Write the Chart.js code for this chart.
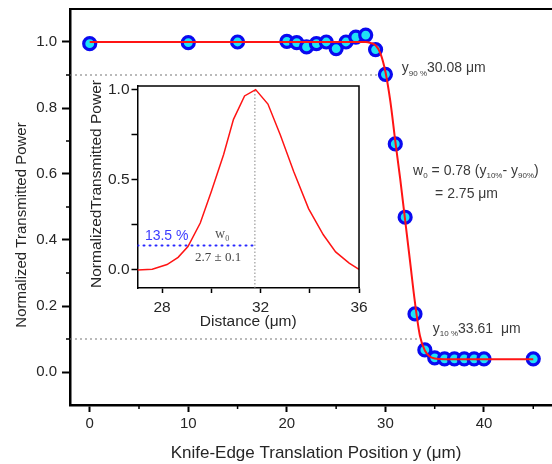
<!DOCTYPE html>
<html>
<head>
<meta charset="utf-8">
<script src="https://cdn.jsdelivr.net/npm/chart.js@4.4.0/dist/chart.umd.min.js"></script>
<style>
    body { margin: 0; background: #fff; }
    .wrap { position: relative; width: 552px; height: 464px; }
    #main { position: absolute; left: 0; top: 0; }
    #inset { position: absolute; left: 80px; top: 76px; }
</style>
</head>
<body>
<div class="wrap">
    <canvas id="main" width="552" height="464"></canvas>
    <canvas id="inset" width="290" height="260"></canvas>
</div>
<script>
// knife-edge scan (main plot)
const knifePos = [0, 10, 15, 20, 21, 22, 23, 24, 25, 26, 27, 28, 29, 30, 31, 32, 33, 34, 35, 36, 37, 38, 39, 40, 45];
const power = [0.995, 0.998, 1.0, 1.002, 0.998, 0.985, 0.995, 1.0, 0.98, 1.0, 1.015, 1.021, 0.977, 0.902,
               0.691, 0.469, 0.176, 0.067, 0.043, 0.04, 0.04, 0.04, 0.04, 0.04, 0.04];

// erf fit
const fitPos = [0, 28, 28.5, 29, 29.5, 30, 30.5, 31, 31.5, 32, 32.5, 33, 33.5, 34, 34.5, 35, 36, 45];
const fitPower = [1.0, 1.0, 0.997, 0.99, 0.965, 0.91, 0.82, 0.70, 0.585, 0.46, 0.335, 0.21, 0.11, 0.065, 0.047, 0.041, 0.039, 0.039];

// 90 % / 10 % guide lines
const guide90 = { from: -2, to: 30.08, level: 0.9 };
const guide10 = { from: -2, to: 33.61, level: 0.1 };

// inset: derived beam profile
const distance = [27, 27.6, 28.2, 28.65, 29.05, 29.55, 30, 30.5, 30.9, 31.35, 31.8, 32.3, 32.8, 33.35, 33.95, 34.55, 35.05, 35.6, 36];
const profile = [0, 0.004, 0.03, 0.07, 0.13, 0.26, 0.435, 0.64, 0.835, 0.965, 1.0, 0.92, 0.75, 0.545, 0.34, 0.195, 0.1, 0.038, 0.003];
const peakPos = 31.77;
const level135 = 0.135;
const level135End = 31.7;

const SANS = "'Liberation Sans', Arial, sans-serif";
const SERIF = "'Liberation Serif', 'Times New Roman', serif";
const INK = '#262626';
const NOTE = '#3a3a3a';

const pts = (xs, ys) => xs.map((x, i) => ({ x, y: ys[i] }));
const isMajorX = v => Math.round(v) % 10 === 0;
const isMajorY = v => Math.round(v * 10) % 2 === 0;

// fixed axis band, no extra label padding so the plot box sits where we want it
const fixHeight = h => s => { s.height = h; s.paddingLeft = 0; s.paddingRight = 0; };
const fixWidth = w => s => { s.width = w; s.paddingTop = 0; s.paddingBottom = 0; };

function richText(ctx, x, y, parts, color) {
    ctx.fillStyle = color;
    ctx.textBaseline = 'middle';
    ctx.textAlign = 'left';
    let cx = x;
    for (const [t, size, dy, family] of parts) {
        ctx.font = size + 'px ' + (family || SANS);
        ctx.fillText(t, cx, y + dy);
        cx += ctx.measureText(t).width;
    }
}

const mainDecor = {
    id: 'mainDecor',
    afterDraw(chart) {
        const { ctx, chartArea: a, scales: { x, y } } = chart;
        ctx.save();
        ctx.strokeStyle = '#000';
        ctx.lineWidth = 2;
        ctx.beginPath();
        ctx.moveTo(a.left, a.top);
        ctx.lineTo(a.right, a.top);
        ctx.stroke();

        // short minor ticks
        ctx.lineWidth = 1.5;
        x.ticks.forEach(t => {
            if (isMajorX(t.value)) return;
            const px = x.getPixelForValue(t.value);
            ctx.beginPath();
            ctx.moveTo(px, a.bottom);
            ctx.lineTo(px, a.bottom + 4);
            ctx.stroke();
        });
        y.ticks.forEach(t => {
            if (isMajorY(t.value) || t.value < 0 || t.value > 1) return;
            const py = y.getPixelForValue(t.value);
            ctx.beginPath();
            ctx.moveTo(a.left, py);
            ctx.lineTo(a.left - 4, py);
            ctx.stroke();
        });

        // axis titles
        ctx.fillStyle = INK;
        ctx.textAlign = 'center';
        ctx.textBaseline = 'middle';
        ctx.font = '17px ' + SANS;
        ctx.fillText('Knife-Edge Translation Position y (\u03bcm)', 316, 453);
        ctx.save();
        ctx.translate(22, 225);
        ctx.rotate(-Math.PI / 2);
        ctx.font = '15px ' + SANS;
        ctx.fillText('Normalized Transmitted Power', 0, 0);
        ctx.restore();

        const px = v => x.getPixelForValue(v);
        const py = v => y.getPixelForValue(v);
        richText(ctx, px(31.66), py(0.92), [['y', 14, 0], ['90 %', 8, 5], ['30.08 \u03bcm', 14, 0]], NOTE);
        richText(ctx, px(32.81), py(0.61), [['w', 14, 0], ['0', 8, 5], [' = 0.78 (y', 14, 0], ['10%', 8, 5],
            ['- y', 14, 0], ['90%', 8, 5], [')', 14, 0]], NOTE);
        richText(ctx, px(35.04), py(0.54), [['= 2.75 \u03bcm', 14, 0]], NOTE);
        richText(ctx, px(34.81), py(0.131), [['y', 14, 0], ['10 %', 8, 5], ['33.61  \u03bcm', 14, 0]], NOTE);
        ctx.restore();
    }
};

new Chart(document.getElementById('main'), {
    type: 'scatter',
    data: {
        datasets: [
            {
                type: 'line',
                data: pts(fitPos, fitPower),
                borderColor: '#ff1414',
                borderWidth: 2,
                pointRadius: 0,
                cubicInterpolationMode: 'monotone',
                order: 0
            },
            {
                data: pts(knifePos, power),
                pointRadius: 6,
                pointBorderWidth: 3.2,
                pointBackgroundColor: '#1fe3f5',
                pointBorderColor: '#0a0af0',
                order: 1
            },
            {
                type: 'line',
                data: [{ x: guide90.from, y: guide90.level }, { x: guide90.to, y: guide90.level }],
                borderColor: '#777',
                borderWidth: 1.2,
                borderDash: [2, 3],
                pointRadius: 0,
                order: 2
            },
            {
                type: 'line',
                data: [{ x: guide10.from, y: guide10.level }, { x: guide10.to, y: guide10.level }],
                borderColor: '#777',
                borderWidth: 1.2,
                borderDash: [2, 3],
                pointRadius: 0,
                order: 2
            }
        ]
    },
    options: {
        responsive: false,
        animation: false,
        layout: { autoPadding: false, padding: { top: 9, right: 0, left: 0, bottom: 0 } },
        plugins: { legend: { display: false }, tooltip: { enabled: false } },
        scales: {
            x: {
                type: 'linear',
                min: -2,
                max: 46.9,
                afterFit: fixHeight(59),
                border: { color: '#000', width: 2.5 },
                grid: {
                    drawOnChartArea: false,
                    tickLength: 7,
                    tickWidth: 2,
                    tickColor: c => isMajorX(c.tick.value) ? '#000' : 'transparent'
                },
                ticks: {
                    stepSize: 5,
                    includeBounds: false,
                    autoSkip: false,
                    maxRotation: 0,
                    padding: 3,
                    color: INK,
                    font: { family: SANS, size: 15 },
                    callback: v => isMajorX(v) ? String(v) : ''
                }
            },
            y: {
                type: 'linear',
                min: -0.1,
                max: 1.1,
                afterFit: fixWidth(70),
                border: { color: '#000', width: 2.5 },
                grid: {
                    drawOnChartArea: false,
                    tickLength: 8,
                    tickWidth: 2,
                    tickColor: c => isMajorY(c.tick.value) ? '#000' : 'transparent'
                },
                ticks: {
                    stepSize: 0.1,
                    includeBounds: false,
                    autoSkip: false,
                    padding: 5,
                    color: INK,
                    font: { family: SANS, size: 15 },
                    callback: v => isMajorY(v) ? v.toFixed(1) : ''
                }
            }
        }
    },
    plugins: [mainDecor]
});

const insetDecor = {
    id: 'insetDecor',
    afterDraw(chart) {
        const { ctx, chartArea: a, scales: { x, y } } = chart;
        ctx.save();
        ctx.strokeStyle = '#000';
        ctx.lineWidth = 1.5;
        ctx.beginPath();
        ctx.moveTo(a.left, a.top);
        ctx.lineTo(a.right, a.top);
        ctx.lineTo(a.right, a.bottom);
        ctx.stroke();

        ctx.fillStyle = INK;
        ctx.textAlign = 'center';
        ctx.textBaseline = 'middle';
        ctx.font = '15.5px ' + SANS;
        ctx.fillText('Distance (\u03bcm)', (a.left + a.right) / 2, 246);
        ctx.save();
        ctx.translate(17, 108);
        ctx.rotate(-Math.PI / 2);
        ctx.fillText('NormalizedTransmitted Power', 0, 0);
        ctx.restore();

        const px = v => x.getPixelForValue(v);
        const py = v => y.getPixelForValue(v);
        richText(ctx, px(27.3), py(0.19), [['13.5 %', 14, 0]], '#3c3cff');
        richText(ctx, px(30.15), py(0.2), [['w', 14, 0, SERIF], ['0', 8, 5, SERIF]], '#555');
        richText(ctx, px(29.34), py(0.07), [['2.7 \u00b1 0.1', 13, 0, SERIF]], '#444');
        ctx.restore();
    }
};

new Chart(document.getElementById('inset'), {
    type: 'scatter',
    data: {
        datasets: [
            {
                type: 'line',
                data: pts(distance, profile),
                borderColor: '#ff1414',
                borderWidth: 1.5,
                pointRadius: 0,
                tension: 0
            },
            {
                type: 'line',
                data: [{ x: peakPos, y: -0.1 }, { x: peakPos, y: 1.0 }],
                borderColor: '#888',
                borderWidth: 1,
                borderDash: [1.5, 2],
                pointRadius: 0
            },
            {
                type: 'line',
                data: [{ x: 27, y: level135 }, { x: level135End, y: level135 }],
                borderColor: '#2a2aff',
                borderWidth: 2,
                borderDash: [1, 5],
                borderCapStyle: 'round',
                pointRadius: 0
            }
        ]
    },
    options: {
        responsive: false,
        animation: false,
        layout: { autoPadding: false, padding: { top: 10, right: 11, left: 0, bottom: 0 } },
        plugins: { legend: { display: false }, tooltip: { enabled: false } },
        scales: {
            x: {
                type: 'linear',
                min: 27,
                max: 36,
                afterFit: fixHeight(48),
                border: { color: '#000', width: 1.5 },
                grid: { drawOnChartArea: false, tickLength: 5, tickWidth: 1.5, tickColor: '#000' },
                ticks: {
                    stepSize: 2,
                    includeBounds: false,
                    autoSkip: false,
                    maxRotation: 0,
                    padding: 5,
                    color: INK,
                    font: { family: SANS, size: 15.5 },
                    callback: v => v % 4 === 0 ? String(v) : ''
                }
            },
            y: {
                type: 'linear',
                min: -0.1,
                max: 1.02,
                afterFit: fixWidth(57.5),
                border: { color: '#000', width: 1.5 },
                grid: { drawOnChartArea: false, tickLength: 6, tickWidth: 1.5, tickColor: '#000' },
                ticks: {
                    stepSize: 0.25,
                    includeBounds: false,
                    autoSkip: false,
                    padding: 2,
                    color: INK,
                    font: { family: SANS, size: 15.5 },
                    callback: v => Math.round(v * 100) % 50 === 0 ? v.toFixed(1) : ''
                }
            }
        }
    },
    plugins: [insetDecor]
});
</script>
</body>
</html>
